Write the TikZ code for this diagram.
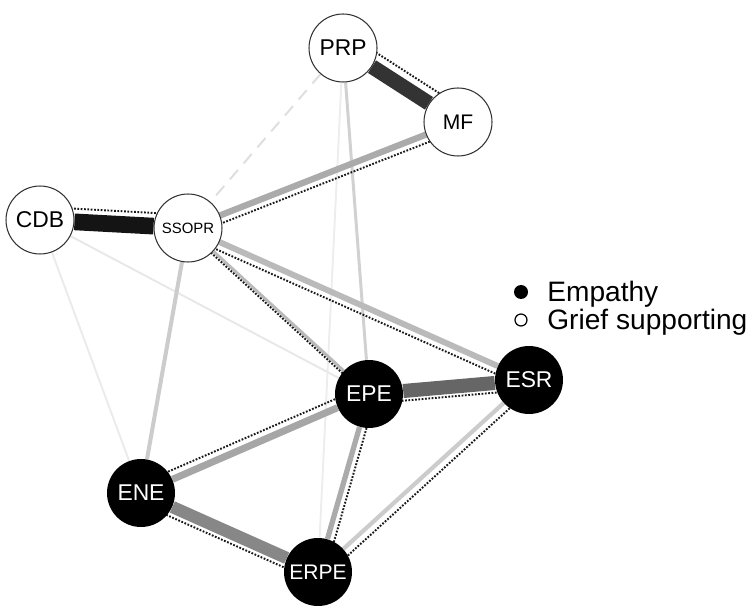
\documentclass[tikz,border=0pt]{standalone}
\usepackage{fontspec}
\setmainfont{Liberation Sans}
\usetikzlibrary{calc}
\pgfdeclarelayer{background}
\pgfsetlayers{background,main}

\tikzset{
  grief/.style={circle, draw=black!80, line width=0.6pt, fill=white,
    minimum size=1.36cm, inner sep=0pt, font=\fontsize{13}{15}\selectfont},
  empathy/.style={circle, fill=black, minimum size=1.36cm, inner sep=0pt,
    text=white, font=\fontsize{13}{15}\selectfont},
  dotline/.style={draw=black!90, line width=1.1pt, dash pattern=on 1pt off 0.9pt},
  legendtext/.style={anchor=base west, inner sep=0pt, font=\fontsize{16}{18}\selectfont},
}
% dotted twin of an edge, shifted to the left of #1 -> #2
\newcommand{\dotpair}[3]{\draw[dotline] ($(#1)!#3!90:(#2)$) -- ($(#2)!#3!-90:(#1)$);}

\begin{document}
\begin{tikzpicture}[x=0.02cm, y=-0.02cm]
\useasboundingbox (0,0) rectangle (753,607);

% grief supporting nodes
\node[grief] (prp) at (343,48) {PRP};
\node[grief, font=\fontsize{12}{14}\selectfont] (mf) at (458,122) {MF};
\node[grief] (cdb) at (40,220) {CDB};
\node[grief, font=\fontsize{8.5}{10}\selectfont] (ssopr) at (188,228) {SSOPR};

% empathy nodes
\node[empathy] (epe) at (369,394) {EPE};
\node[empathy] (esr) at (529,380) {ESR};
\node[empathy] (ene) at (141,493) {ENE};
\node[empathy, font=\fontsize{12}{14}\selectfont] (erpe) at (318,572) {ERPE};

\begin{pgfonlayer}{background}
% weak edges
\draw[line width=1.1pt, color=black!13, dash pattern=on 7pt off 5pt] (prp) -- (ssopr);
\draw[line width=1.1pt, color=black!7] (prp) -- (erpe);
\draw[line width=1.1pt, color=black!9] (cdb) -- (epe);
\draw[line width=1.1pt, color=black!8] (cdb) -- (ene);
\draw[line width=1.7pt, color=black!18] (prp) -- (epe);
\draw[line width=2.3pt, color=black!20] (ssopr) -- (ene);

% medium edges
\draw[line width=1.7pt, color=black!27] (ssopr) -- (epe);
\draw[line width=3.4pt, color=black!27] (ssopr) -- (esr);
\draw[line width=3.6pt, color=black!33] (mf) -- (ssopr);
\draw[line width=4pt, color=black!35] (ene) -- (epe);
\draw[line width=3pt, color=black!33] (epe) -- (erpe);
\draw[line width=2.4pt, color=black!20] (esr) -- (erpe);

% strong edges
\draw[line width=7pt, color=black!47] (ene) -- (erpe);
\draw[line width=8pt, color=black!60] (epe) -- (esr);
\draw[line width=8.5pt, color=black!80] (prp) -- (mf);
\draw[line width=9.5pt, color=black!92] (cdb) -- (ssopr);

% dotted twins
\dotpair{prp}{mf}{8pt}
\dotpair{cdb}{ssopr}{7.5pt}
\dotpair{mf}{ssopr}{4.5pt}
\dotpair{esr}{ssopr}{4.5pt}
\dotpair{epe}{ssopr}{1.5pt}
\dotpair{esr}{epe}{5.5pt}
\dotpair{ene}{epe}{5pt}
\dotpair{erpe}{ene}{5.5pt}
\dotpair{epe}{erpe}{4pt}
\dotpair{esr}{erpe}{4.5pt}
\end{pgfonlayer}

% legend
\fill[black] (521,292) circle (7);
\draw[black, line width=0.7pt] (521,320) circle (6);
\node[legendtext] (lemp) at (547,302) {Empathy};
\node[legendtext] (lgrief) at (547,330) {Grief supporting};

\end{tikzpicture}
\end{document}
